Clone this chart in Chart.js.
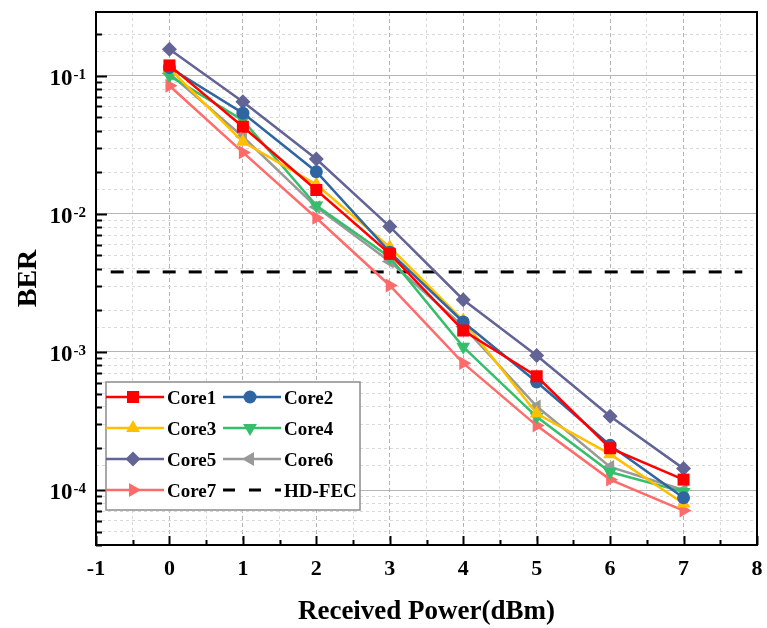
<!DOCTYPE html>
<html>
<head>
<meta charset="utf-8">
<script src="https://cdn.jsdelivr.net/npm/chart.js@4.4.1/dist/chart.umd.min.js"></script>
<style>
  html, body { margin: 0; padding: 0; background: #ffffff; }
  #berChart { display: block; }
</style>
</head>
<body>
<canvas id="berChart" width="767" height="628"></canvas>
<script>
// Data (BER vs daya terima)
const powerDbm = [0, 1, 2, 3, 4, 5, 6, 7];
const core1 = [0.119, 0.0428, 0.0149, 0.00514, 0.00143, 0.000667, 0.000201, 0.000119];
const core2 = [0.115, 0.0537, 0.0202, 0.00528, 0.00165, 0.000606, 0.000211, 0.000088];
const core3 = [0.113, 0.0333, 0.0163, 0.00574, 0.00169, 0.000358, 0.000182, 0.000080];
const core4 = [0.100, 0.0478, 0.0115, 0.00486, 0.00109, 0.000339, 0.000135, 0.000097];
const core5 = [0.156, 0.0649, 0.0250, 0.00809, 0.00239, 0.000944, 0.000342, 0.000143];
const core6 = [0.104, 0.0362, 0.0112, 0.00452, 0.00153, 0.000404, 0.000147, 0.000100];
const core7 = [0.0847, 0.0279, 0.00935, 0.00303, 0.00083, 0.000293, 0.000119, 0.000071];
const hdFecX = [-0.8, 7.8];
const hdFecY = [0.0038, 0.0038];

const xTickLabels = ['-1', '0', '1', '2', '3', '4', '5', '6', '7', '8'];
const yTickLabels = ['-4', '-3', '-2', '-1'];

const serif = '"Liberation Serif", "Times New Roman", serif';

// Gaya tiap core
const coreStyles = [
  { label: 'Core1', data: core1, color: '#ff0000', pointStyle: 'rect', radius: 8.5, rotation: 0 },
  { label: 'Core2', data: core2, color: '#2f65a0', pointStyle: 'circle', radius: 6.5, rotation: 0 },
  { label: 'Core3', data: core3, color: '#ffc000', pointStyle: 'triangle', radius: 8, rotation: 0 },
  { label: 'Core4', data: core4, color: '#35bf6a', pointStyle: 'triangle', radius: 8, rotation: 180 },
  { label: 'Core5', data: core5, color: '#626496', pointStyle: 'rectRot', radius: 7.5, rotation: 0 },
  { label: 'Core6', data: core6, color: '#999999', pointStyle: 'triangle', radius: 8, rotation: -90 },
  { label: 'Core7', data: core7, color: '#ff6b6b', pointStyle: 'triangle', radius: 8, rotation: 90 }
];

function toPoints(xs, ys) {
  return xs.map((x, i) => ({ x: x, y: ys[i] }));
}

const datasets = coreStyles.map(s => ({
  label: s.label,
  data: toPoints(powerDbm, s.data),
  borderColor: s.color,
  backgroundColor: s.color,
  borderWidth: 2.5,
  pointStyle: s.pointStyle,
  pointRadius: s.radius,
  pointRotation: s.rotation,
  pointBorderWidth: 0,
  tension: 0
}));

datasets.push({
  label: 'HD-FEC',
  data: toPoints(hdFecX, hdFecY),
  borderColor: '#000000',
  backgroundColor: '#000000',
  borderWidth: 3,
  borderDash: [13, 13],
  pointRadius: 0,
  tension: 0,
  isDashed: true
});

function isDecade(v) {
  const l = Math.log10(v);
  return Math.abs(l - Math.round(l)) < 1e-6;
}

// Plugin untuk bingkai, tick, label sumbu dan legend
const decorPlugin = {
  id: 'decor',
  afterDraw(chart) {
    const ctx = chart.ctx;
    const area = chart.chartArea;
    const xs = chart.scales.x;
    const ys = chart.scales.y;
    ctx.save();

    // tick kecil di dalam sumbu kiri
    ctx.strokeStyle = '#000';
    ctx.lineWidth = 2;
    for (let e = -5; e <= 0; e++) {
      for (let m = 1; m <= 9; m++) {
        const v = m * Math.pow(10, e);
        if (v < ys.min || v > ys.max) continue;
        const py = Math.round(ys.getPixelForValue(v)) + 0.5;
        const len = m === 1 ? 11 : 6;
        ctx.beginPath();
        ctx.moveTo(area.left, py);
        ctx.lineTo(area.left + len, py);
        ctx.stroke();
      }
    }
    // tick di sumbu bawah
    for (let x = -1; x <= 8; x += 0.5) {
      const px = Math.round(xs.getPixelForValue(x)) + 0.5;
      const len = Number.isInteger(x) ? 9 : 5;
      ctx.beginPath();
      ctx.moveTo(px, area.bottom);
      ctx.lineTo(px, area.bottom - len);
      ctx.stroke();
    }

    // bingkai
    ctx.lineWidth = 2;
    ctx.strokeRect(area.left, area.top, area.right - area.left, area.bottom - area.top);

    // label tick x
    ctx.fillStyle = '#000';
    ctx.font = 'bold 22px ' + serif;
    ctx.textAlign = 'center';
    ctx.textBaseline = 'alphabetic';
    xTickLabels.forEach(t => {
      ctx.fillText(t, xs.getPixelForValue(Number(t)), 575);
    });

    // label tick y (10 pangkat)
    yTickLabels.forEach(t => {
      const py = ys.getPixelForValue(Math.pow(10, Number(t)));
      ctx.textAlign = 'right';
      ctx.font = 'bold 15px ' + serif;
      const expW = ctx.measureText(t).width;
      ctx.fillText(t, 86, py + 3);
      ctx.font = 'bold 23px ' + serif;
      ctx.fillText('10', 86 - expW - 1, py + 9);
    });

    // judul sumbu
    ctx.font = 'bold 27px ' + serif;
    ctx.textAlign = 'center';
    ctx.fillText('Received Power(dBm)', (area.left + area.right) / 2, 619);
    ctx.save();
    ctx.translate(36, (area.top + area.bottom) / 2);
    ctx.rotate(-Math.PI / 2);
    ctx.font = 'bold 28px ' + serif;
    ctx.fillText('BER', 0, 0);
    ctx.restore();

    // legend
    const box = { left: 106, top: 382, right: 360, bottom: 510 };
    ctx.fillStyle = '#ffffff';
    ctx.fillRect(box.left, box.top, box.right - box.left, box.bottom - box.top);
    ctx.strokeStyle = '#8c8c8c';
    ctx.lineWidth = 1.5;
    ctx.strokeRect(box.left, box.top, box.right - box.left, box.bottom - box.top);

    const colX = [106, 223];
    const rowY = [397, 428, 459, 490];
    chart.data.datasets.forEach((ds, k) => {
      const x0 = colX[k % 2];
      const y0 = rowY[Math.floor(k / 2)];
      ctx.strokeStyle = ds.borderColor;
      ctx.lineWidth = ds.isDashed ? 3 : 2.5;
      ctx.setLineDash(ds.isDashed ? [12, 14] : []);
      ctx.beginPath();
      ctx.moveTo(x0, y0);
      ctx.lineTo(x0 + 58, y0);
      ctx.stroke();
      ctx.setLineDash([]);
      if (!ds.isDashed) {
        ctx.fillStyle = ds.backgroundColor;
        Chart.helpers.drawPoint(ctx, {
          pointStyle: ds.pointStyle,
          radius: ds.pointRadius,
          rotation: ds.pointRotation,
          borderWidth: 0
        }, x0 + 27, y0);
      }
      ctx.fillStyle = '#000';
      ctx.font = 'bold 19px ' + serif;
      ctx.textAlign = 'left';
      ctx.fillText(ds.label, x0 + 61, y0 + 7);
    });

    ctx.restore();
  }
};

const chart = new Chart(document.getElementById('berChart'), {
  type: 'line',
  data: { datasets: datasets },
  options: {
    responsive: false,
    animation: false,
    layout: { padding: { left: 96, right: 10, top: 12, bottom: 83 } },
    plugins: {
      legend: { display: false },
      tooltip: { enabled: false }
    },
    scales: {
      x: {
        type: 'linear',
        min: -1,
        max: 8,
        ticks: { display: false, stepSize: 0.5 },
        border: {
          display: false,
          dash: ctx => Number.isInteger(ctx.tick.value) ? [4, 3] : [3, 3]
        },
        grid: {
          drawTicks: false,
          lineWidth: 1,
          color: ctx => Number.isInteger(ctx.tick.value) ? '#b3b3b3' : '#d9d9d9'
        }
      },
      y: {
        type: 'logarithmic',
        min: 4e-5,
        max: 0.29,
        ticks: { display: false },
        border: {
          display: false,
          dash: ctx => isDecade(ctx.tick.value) ? [] : [3, 3]
        },
        grid: {
          drawTicks: false,
          lineWidth: 1,
          color: ctx => isDecade(ctx.tick.value) ? '#b5b5b5' : '#d9d9d9'
        }
      }
    }
  },
  plugins: [decorPlugin]
});
</script>
</body>
</html>
